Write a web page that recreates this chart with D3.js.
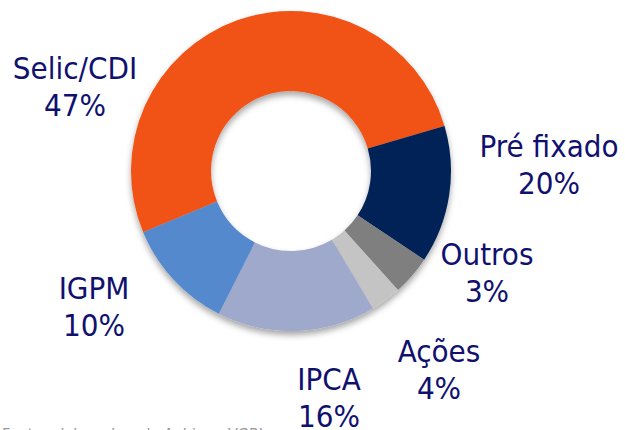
<!DOCTYPE html>
<html>
  <head>
    <meta charset="utf-8">
    <script src="https://cdn.jsdelivr.net/npm/d3@7/dist/d3.min.js"></script>
    <style>
    body { margin: 0; background: #fff; }
    .label {
      font-family: "DejaVu Sans Condensed", "DejaVu Sans", sans-serif;
      font-stretch: condensed;
      font-size: 31px;
      fill: #10116f;
    }
    .source {
      font-family: "DejaVu Sans Condensed", "DejaVu Sans", sans-serif;
      font-size: 16px;
      fill: #999;
    }
    </style>
  </head>
  <body>
    <script>

    // slice sizes as drawn (share of the ring), and the percentages printed on the labels
    var categories = ["Selic/CDI", "Pré fixado", "Outros", "Ações", "IPCA", "IGPM"];
    var values = [51.7, 13.9, 4.0, 3.1, 16.0, 11.3];
    var pctLabels = ["47%", "20%", "3%", "4%", "16%", "10%"];
    var colors = ["#f15215", "#002457", "#7f7f7f", "#c4c4c4", "#9ea9cb", "#5589cd"];
    // label anchor points (first line baseline, centred)
    var labelPos = [[75, 79], [549, 157], [487, 265], [439, 362], [329, 390], [94, 299]];

    var width = 625, height = 430;
    var cx = 291, cy = 171, outerR = 160, innerR = 80;

    var svg = d3.select("body")
      .append("svg")
        .attr("width", width)
        .attr("height", height);

    var defs = svg.append("defs");
    var f = defs.append("filter")
        .attr("id", "shadow")
        .attr("x", "-20%").attr("y", "-20%")
        .attr("width", "140%").attr("height", "140%");
    f.append("feDropShadow")
        .attr("dx", 0).attr("dy", 4)
        .attr("stdDeviation", 3)
        .attr("flood-color", "#000")
        .attr("flood-opacity", 0.35);

    var pie = d3.pie()
        .sort(null)
        .startAngle(-112.5 * Math.PI / 180)
        .endAngle((360 - 112.5) * Math.PI / 180)
        .value(function(d) { return d; });

    var arc = d3.arc().innerRadius(innerR).outerRadius(outerR);

    var g = svg.append("g")
        .attr("transform", "translate(" + cx + "," + cy + ")")
        .attr("filter", "url(#shadow)");

    g.selectAll("path")
        .data(pie(values))
        .enter().append("path")
        .attr("d", arc)
        .style("fill", function(d, i) { return colors[i]; });

    var lab = svg.selectAll("text.label")
        .data(categories)
        .enter().append("text")
        .attr("class", "label")
        .attr("text-anchor", "middle")
        .attr("x", function(d, i) { return labelPos[i][0]; })
        .attr("y", function(d, i) { return labelPos[i][1]; });

    lab.append("tspan")
        .attr("x", function(d, i) { return labelPos[i][0]; })
        .text(function(d) { return d; });
    lab.append("tspan")
        .attr("x", function(d, i) { return labelPos[i][0]; })
        .attr("dy", 37)
        .text(function(d, i) { return pctLabels[i]; });

    // source line, cut off by the bottom edge as in the original
    svg.append("text")
        .attr("class", "source")
        .attr("x", 2)
        .attr("y", 440)
        .text("Fonte: elaborado pela Anbima, VGBL");

    </script>
  </body>
</html>
